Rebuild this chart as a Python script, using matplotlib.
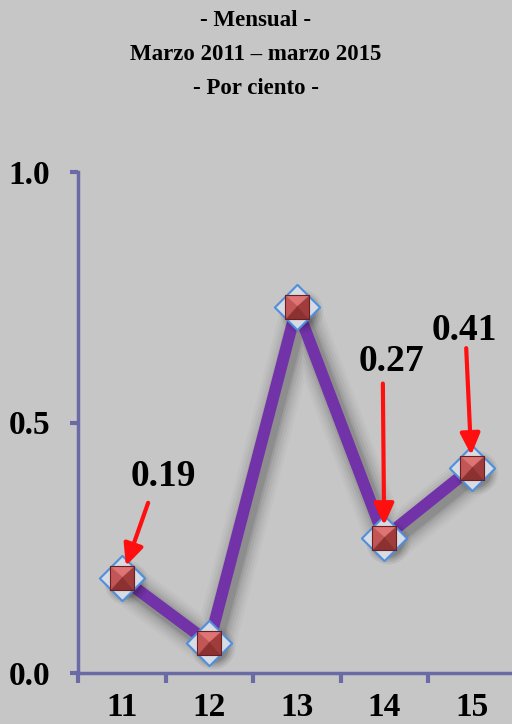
import matplotlib
matplotlib.use("Agg")
import matplotlib.pyplot as plt
import matplotlib.patheffects as pe
from matplotlib.path import Path
from matplotlib.transforms import ScaledTranslation
import numpy as np

# Data
years = ["11", "12", "13", "14", "15"]
values = [0.19, 0.06, 0.73, 0.27, 0.41]
labels = {0: "0.19", 3: "0.27", 4: "0.41"}
# text / arrow-tail offsets (points) from the marker, per labelled point
text_offsets = {0: (30, 73), 3: (5, 127), 4: (-5, 99)}
tail_offsets = {0: (19, 54), 3: (-1, 111), 4: (-4, 86)}

bg = "#c6c6c6"
spine_col = "#6a6aa4"
serif = ["Liberation Serif", "DejaVu Serif"]

fig = plt.figure(figsize=(5.12, 7.24), dpi=100, facecolor=bg)
ax = fig.add_axes([78 / 512, 51 / 724, 437.5 / 512, 501 / 724])
ax.set_facecolor(bg)

for txt, ypx in [("- Mensual -", 20), ("Marzo 2011 \u2013 marzo 2015", 55), ("- Por ciento -", 88)]:
    fig.text(0.5, 1 - ypx / 724, txt, ha="center", va="center",
             family=serif, weight="bold", fontsize=16.5)

x = np.arange(len(values))
vals = np.array(values)

# soft drop shadow under the line
shadow = []
for lw, a in [(30, 0.025), (26, 0.03), (22, 0.04), (18, 0.05), (14, 0.07), (11, 0.09)]:
    shadow.append(pe.SimpleLineShadow(offset=(3, -4), shadow_color="k", alpha=a, linewidth=lw))
ax.plot(x, vals, color="#7232a8", lw=8.5, solid_joinstyle="round", solid_capstyle="round",
        path_effects=shadow + [pe.Normal()], zorder=3)

# marker shadows
shift = ax.transData + ScaledTranslation(4 / 100, -4 / 100, fig.dpi_scale_trans)
for s, a in [(1000, 0.04), (800, 0.05), (620, 0.07), (480, 0.09)]:
    ax.scatter(x, vals, s=s, marker="o", color="k", alpha=a, zorder=3.5, linewidths=0,
               transform=shift)

# blue diamond
ax.scatter(x, vals, s=530, marker="D", facecolor="#d6dbe4", edgecolor="#4f8fdc",
           linewidths=1.5, zorder=4)

# red pyramid square: four facets
apex = (0.0, 0.1)
facets = [
    ([(-1, 1), (1, 1), apex, (-1, 1)], "#de7474"),
    ([(-1, 1), apex, (-1, -1), (-1, 1)], "#c25656"),
    ([(1, 1), (1, -1), apex, (1, 1)], "#a03c3c"),
    ([(-1, -1), (1, -1), apex, (-1, -1)], "#8c3030"),
]
for verts, col in facets:
    ax.scatter(x, vals, s=300, marker=Path(verts), facecolor=col, edgecolor=col,
               linewidths=0.3, zorder=5)
ax.scatter(x, vals, s=300, marker="s", facecolor="none", edgecolor="#6a2020",
           linewidths=0.8, zorder=5.5)

for i, txt in labels.items():
    ax.annotate(txt, xy=(x[i], vals[i]), xytext=text_offsets[i], textcoords="offset points",
                ha="center", va="center", family=serif, weight="bold", fontsize=27, zorder=7)
    ax.annotate("", xy=(x[i], vals[i]), xytext=tail_offsets[i], textcoords="offset points",
                arrowprops=dict(arrowstyle="-|>,head_length=1.3,head_width=0.6",
                                mutation_scale=10, color="#ff1010", lw=3,
                                shrinkA=0, shrinkB=9),
                zorder=7)

ax.set_xlim(-0.5, 4.5)
ax.set_ylim(0, 1.0)
ax.set_xticks(x)
ax.set_xticklabels(years)
ax.set_xticks(np.arange(-0.5, 4.6, 1), minor=True)
ax.set_yticks([0, 0.5, 1.0])
ax.set_yticklabels(["0.0", "0.5", "1.0"])
ax.tick_params(axis="x", which="major", length=0, pad=14)
ax.tick_params(axis="x", which="minor", length=7, width=3, color=spine_col, direction="out")
ax.tick_params(axis="y", length=6, width=3, color=spine_col, pad=14)
for lab in ax.get_xticklabels() + ax.get_yticklabels():
    lab.set_family(serif)
    lab.set_weight("bold")
    lab.set_fontsize(24)

for s in ["top", "right"]:
    ax.spines[s].set_visible(False)
for s in ["left", "bottom"]:
    ax.spines[s].set_color(spine_col)
    ax.spines[s].set_linewidth(2.5)

fig.savefig("out.png", dpi=100, facecolor=bg)
